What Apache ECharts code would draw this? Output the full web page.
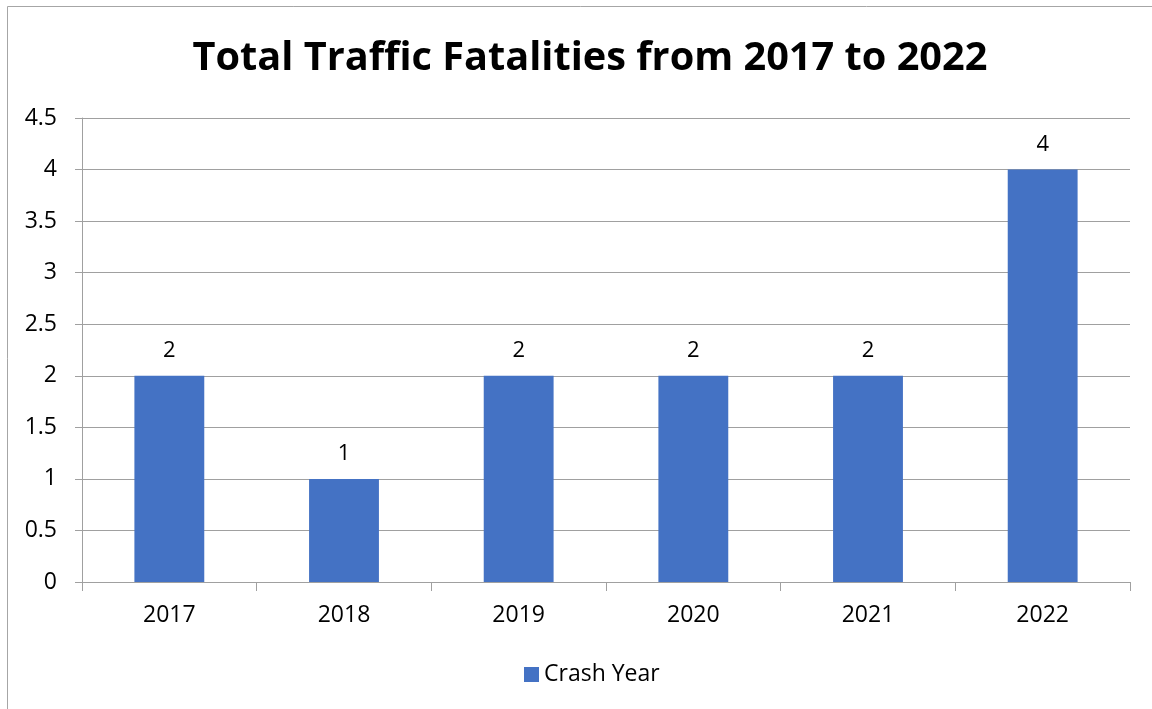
<!DOCTYPE html>
<html><head><meta charset="utf-8">
<script src="https://cdn.jsdelivr.net/npm/echarts@6/dist/echarts.min.js"></script>
<style>html,body{margin:0;padding:0;background:#fff}#c{width:1152px;height:709px}</style>
</head><body><div id="c"></div>
<script>
const categories = ['2017','2018','2019','2020','2021','2022'];
const fatalities = [2,1,2,2,2,4];
const seriesName = 'Crash Year';
const titleText = 'Total Traffic Fatalities from 2017 to 2022';

const chart = echarts.init(document.getElementById('c'), null, {renderer:'canvas'});
const font = '"Open Sans", "Noto Sans", sans-serif';
chart.setOption({
  animation:false,
  graphic:[{type:'rect', shape:{x:7.5,y:6.5,width:1200,height:800}, style:{fill:'none', stroke:'#a6a6a6', lineWidth:1}, silent:true}],
  title:{text:titleText, left:585, textAlign:'center', top:34, textStyle:{fontFamily:font, fontWeight:'bold', fontSize:39.7, color:'#000'}},
  grid:{left:82, right:22, top:118, bottom:127, containLabel:false},
  legend:{bottom:18, left:519, itemWidth:15, itemHeight:15, icon:'rect', itemGap:7,
    textStyle:{fontFamily:font, fontSize:23, color:'#000'}},
  xAxis:{type:'category', data:categories,
    axisLine:{lineStyle:{color:'#a0a0a0'}},
    axisTick:{show:true, length:9, alignWithLabel:false, lineStyle:{color:'#a0a0a0'}},
    axisLabel:{fontFamily:font, fontSize:23, color:'#000', margin:22}},
  yAxis:{type:'value', min:0, max:4.5, interval:0.5,
    axisLine:{show:true, lineStyle:{color:'#a0a0a0'}},
    axisTick:{show:true, length:7, lineStyle:{color:'#a0a0a0'}},
    splitLine:{lineStyle:{color:'#a0a0a0'}},
    axisLabel:{fontFamily:font, fontSize:23, color:'#000', margin:25}},
  series:[{name:seriesName, type:'bar', data:fatalities, barWidth:'40%',
    itemStyle:{color:'#4472c4'},
    label:{show:true, position:'top', distance:14, fontFamily:font, fontSize:22, color:'#000'}}]
});
</script></body></html>
